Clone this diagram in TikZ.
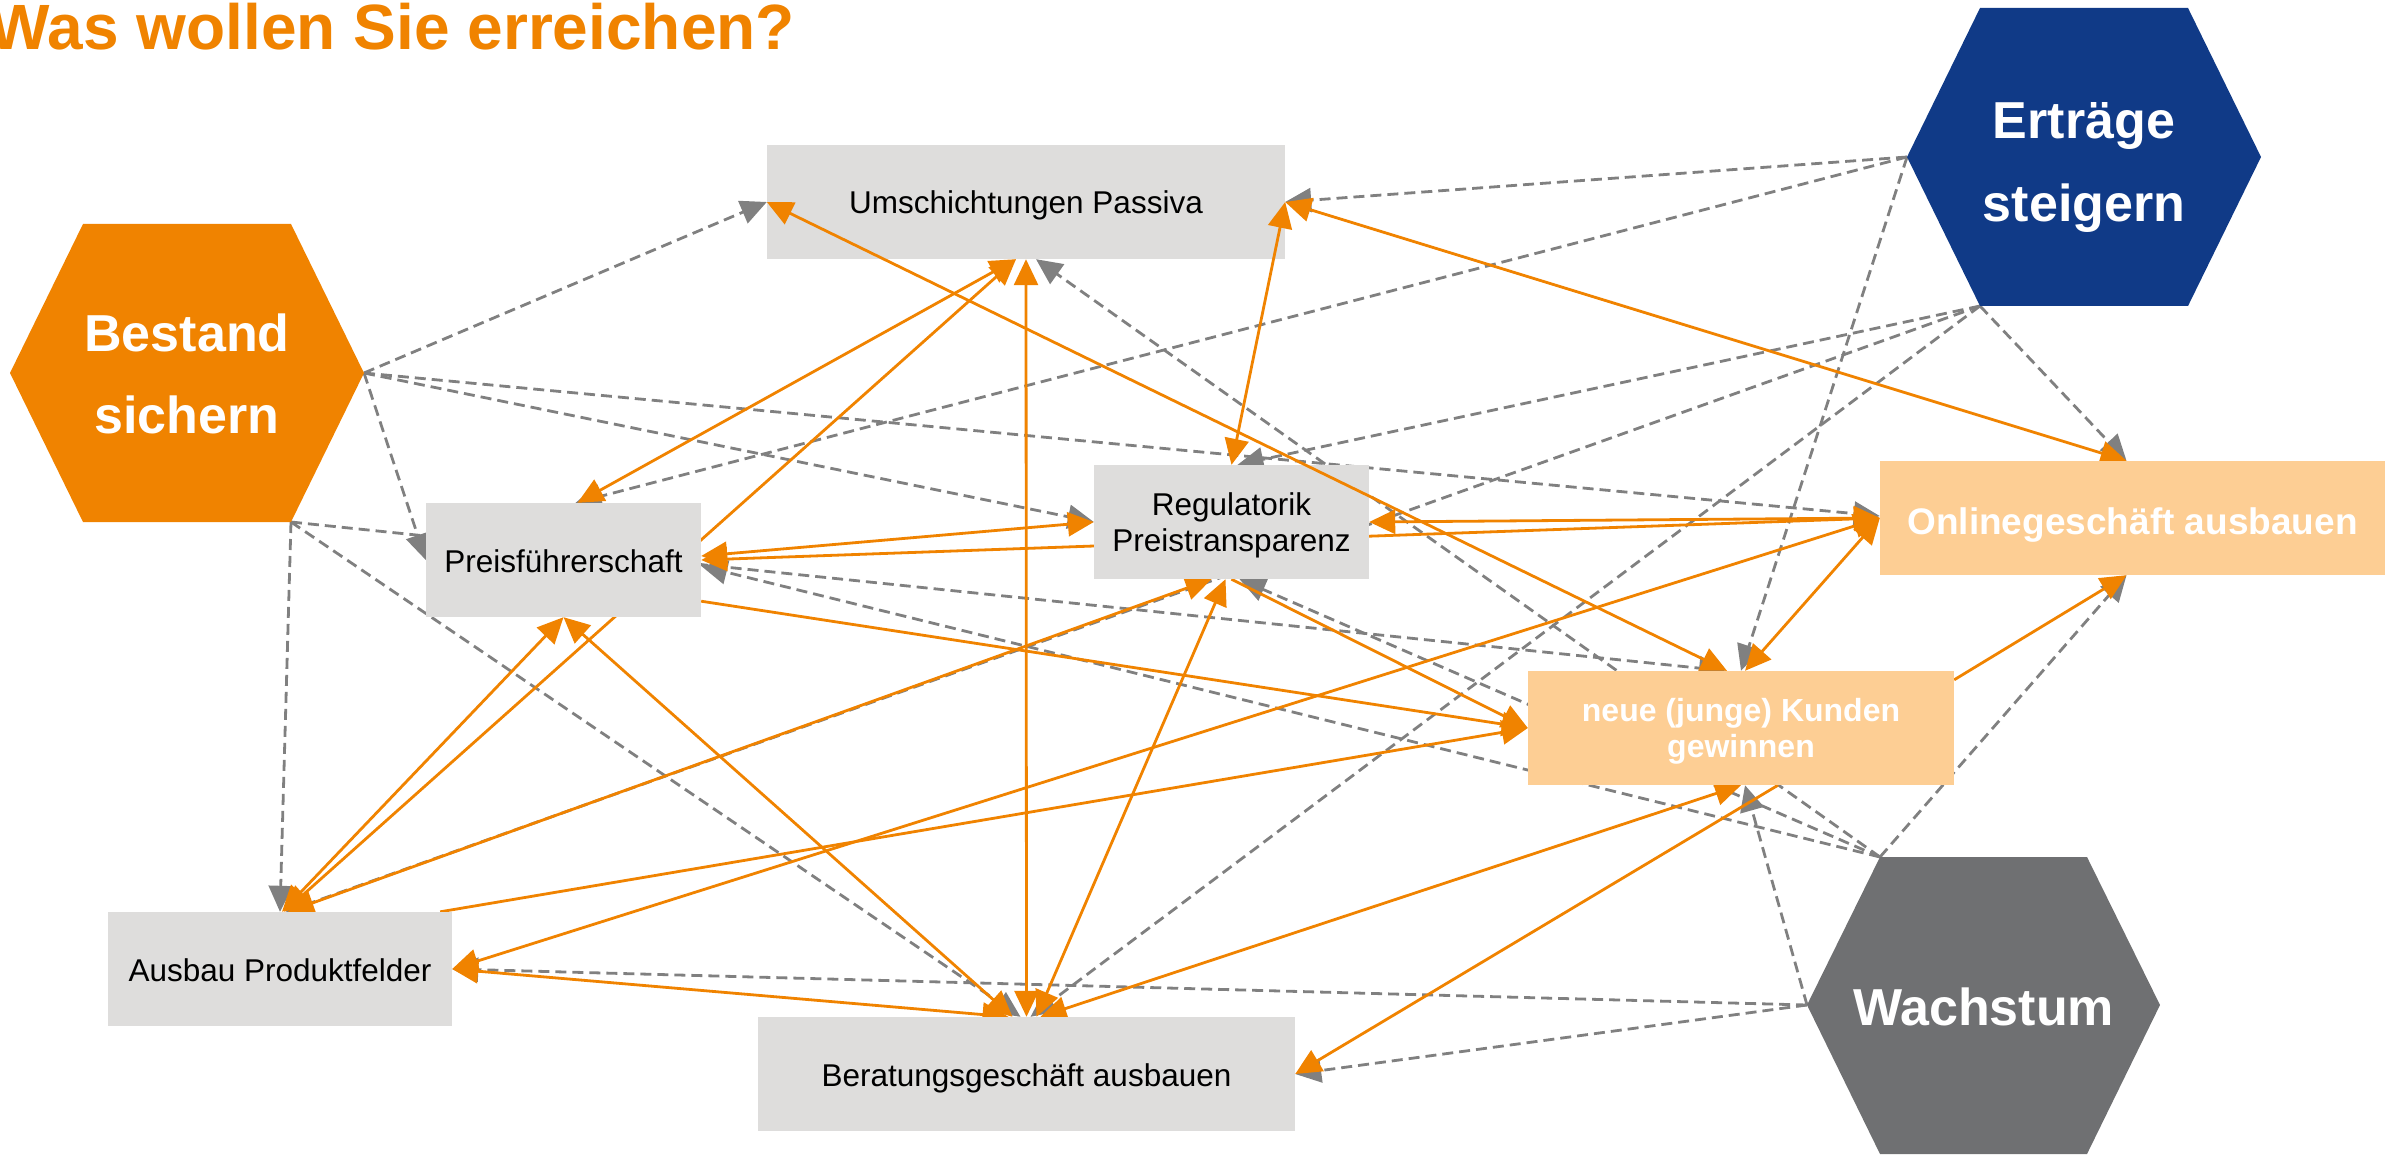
\documentclass[tikz,border=0pt]{standalone}
\usepackage{fontspec}
\setmainfont{Liberation Sans}
\usetikzlibrary{arrows.meta,calc}
\definecolor{myorange}{RGB}{240,131,0}
\definecolor{peach}{RGB}{253,206,148}
\definecolor{navy}{RGB}{16,58,135}
\definecolor{hexgray}{RGB}{111,112,114}
\definecolor{boxgray}{RGB}{222,221,220}
\definecolor{arrgray}{RGB}{128,128,128}
\pgfdeclarelayer{bg}
\pgfsetlayers{bg,main}
\begin{document}
\begin{tikzpicture}[x=1pt,y=-1pt,
  gbox/.style={fill=boxgray,inner sep=0pt,minimum height=114pt,align=center,text=black,font=\fontsize{31.5}{35.5}\selectfont},
  pbox/.style={fill=peach,inner sep=0pt,minimum height=114pt,align=center,text=white,font=\bfseries\fontsize{32}{35.5}\selectfont},
  hexlabel/.style={text=white,align=center,inner sep=0pt,font=\bfseries\fontsize{52}{82}\selectfont},
  dep/.style={draw=arrgray,line width=2.8pt,dash pattern=on 11pt off 6pt,-{Triangle[length=26pt,width=24pt]}},
  imp1/.style={draw=myorange,line width=2.8pt,-{Triangle[length=26pt,width=24pt]}},
  imp2/.style={draw=myorange,line width=2.8pt,{Triangle[length=26pt,width=24pt]}-{Triangle[length=26pt,width=24pt]}}]
\useasboundingbox (0,0) rectangle (2389,1155);

% title
\node[anchor=base east,inner sep=0pt,text=myorange,font=\bfseries\fontsize{64}{70}\selectfont] (T) at (795,50) {Was wollen Sie erreichen?};

% hexagons
\fill[myorange] (83,224) -- (291,224) -- (364,373) -- (291,522) -- (83,522) -- (10,373) -- cycle;
\fill[navy] (1980,8) -- (2188,8) -- (2261,157) -- (2188,306) -- (1980,306) -- (1907,157) -- cycle;
\fill[hexgray] (1880,857) -- (2087,857) -- (2160,1005) -- (2087,1154) -- (1880,1154) -- (1807,1005) -- cycle;
\coordinate (bR) at (364,373);
\coordinate (bBR) at (291,522);
\coordinate (eL) at (1907,157);
\coordinate (eBL) at (1980,306);
\coordinate (wTL) at (1880,857);
\coordinate (wL) at (1807,1005);
\node[hexlabel,text depth=0pt] (B) at (187,374) {Bestand\\sichern};
\node[hexlabel,text depth=0pt] (E) at (2084,162) {Erträge\\steigern};
\node[hexlabel,text depth=0pt] (W) at (1983.5,1007) {Wachstum};

% boxes
\node[gbox,minimum width=518pt,text height=24pt,text depth=0pt] (U) at (1026,202) {Umschichtungen Passiva};
\node[gbox,minimum width=275pt,text height=24pt,text depth=0pt] (P) at (563.5,560) {Preisführerschaft};
\node[gbox,minimum width=275pt,text depth=-3pt] (R) at (1231.5,522) {Regulatorik\\Preistransparenz};
\node[pbox,minimum width=505pt,text height=32pt,text depth=0pt,font=\bfseries\fontsize{37}{40}\selectfont] (O) at (2132.5,518) {Onlinegeschäft ausbauen};
\node[pbox,minimum width=426pt,text depth=-5pt] (N) at (1741,728) {neue (junge) Kunden\\gewinnen};
\node[gbox,minimum width=344pt,text height=24pt,text depth=0pt] (A) at (280,969) {Ausbau Produktfelder};
\node[gbox,minimum width=537pt,text height=24pt,text depth=0pt] (Be) at (1026.5,1074) {Beratungsgeschäft ausbauen};

% connectors that run over the Umschichtungen box
\draw[imp2] (U.west) -- ($(N.north)+(-14,0)$);
\draw[imp2] (U.east) -- (R.north);

\begin{pgfonlayer}{bg}
% goal relations (dashed)
\draw[dep] (bR) -- (U.west);
\draw[dep] (bR) -- (P.west);
\draw[dep] (bBR) -- ($(N.north)+(-16,0)$);
\draw[dep] (bR) -- (R.west);
\draw[dep] (bR) -- ($(O.west)+(0,-2)$);
\draw[dep] (bBR) -- (A.north);
\draw[dep] (bBR) -- ($(Be.north)+(-6,0)$);
\draw[dep] (eL) -- (U.east);
\draw[dep] (eL) -- ($(P.north)+(12,0)$);
\draw[dep] (eL) -- (N.north);
\draw[dep] (eBL) -- ($(R.north)+(6,0)$);
\draw[dep] (eBL) -- ($(A.north)+(6,0)$);
\draw[dep] (eBL) -- ($(Be.north)+(4,0)$);
\draw[dep] (eBL) -- ($(O.north)+(-6,0)$);
\draw[dep] (wTL) -- ($(O.south)+(-6,0)$);
\draw[dep] (wTL) -- ($(P.east)+(0,6)$);
\draw[dep] (wTL) -- ($(U.south)+(10,0)$);
\draw[dep] (wL) -- ($(N.south)+(4,0)$);
\draw[dep] (wTL) -- ($(R.south)+(8,0)$);
\draw[dep] (wL) -- (A.east);
\draw[dep] (wL) -- (Be.east);
% measure relations (orange)
\draw[imp2] (U.east) -- ($(O.north)+(-6,0)$);
\draw[imp2] ($(U.south)+(-10,0)$) -- ($(P.north)+(14,0)$);
\draw[imp2] ($(U.south)+(-10,0)$) -- ($(A.north)+(4,0)$);
\draw[imp2] (U.south) -- (Be.north);
\draw[imp2] ($(P.east)+(0,-4)$) -- (R.west);
\draw[imp2] (O.west) -- (P.east);
\draw[imp2] (O.west) -- (A.east);
\draw[imp2] (O.west) -- ($(N.north)+(4,0)$);
\draw[imp2] (O.west) -- (R.east);
\draw[imp1] ($(P.south east)+(0,-16)$) -- (N.west);
\draw[imp1] ($(A.north east)+(-12,0)$) -- (N.west);
\draw[imp2] ($(R.south)+(-6,0)$) -- ($(Be.north)+(10,0)$);
\draw[imp2] ($(A.north)+(8,0)$) -- ($(R.south)+(-20,0)$);
\draw[imp1] (R.south) -- (N.west);
\draw[imp2] (P.south) -- ($(Be.north)+(-14,0)$);
\draw[imp2] (N.south) -- ($(Be.north)+(14,0)$);
\draw[imp2] ($(Be.north)+(-18,0)$) -- (A.east);
\draw[imp2] ($(A.north)+(2,0)$) -- (P.south);
\draw[imp1] ($(N.north east)+(0,9)$) -- ($(O.south)+(-6,0)$);
\draw[imp1] ($(N.south)+(37,0)$) -- (Be.east);
\end{pgfonlayer}
\end{tikzpicture}
\end{document}
